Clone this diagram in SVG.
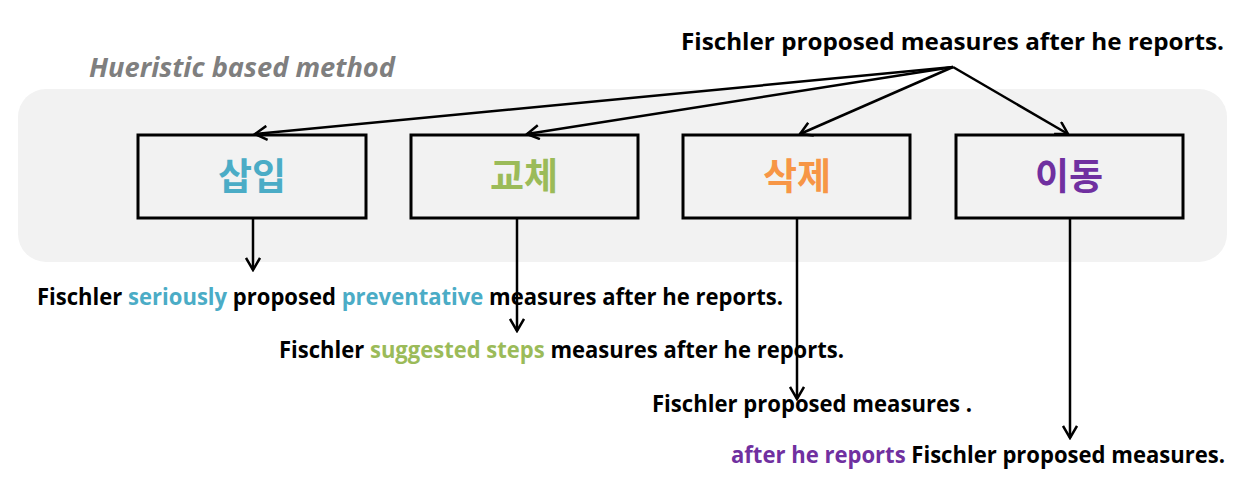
<svg xmlns="http://www.w3.org/2000/svg" width="1247" height="490" viewBox="0 0 1247 490">
<style>
.box{fill:#F2F2F2;stroke:#000;stroke-width:3}
.lbl{font-family:"Noto Sans CJK KR","Noto Sans",sans-serif;font-weight:bold;font-size:37px;text-anchor:middle}
.txt{font-family:"Open Sans","Liberation Sans",sans-serif;font-weight:bold;font-size:24px;fill:#000}
.con{stroke:#000;stroke-width:2.5;fill:none}
</style>
<defs>
<marker id="ah" viewBox="0 0 16 16" refX="14" refY="8" markerWidth="16" markerHeight="16" markerUnits="userSpaceOnUse" orient="auto">
<path d="M2,1 L14,8 L2,15" fill="none" stroke="#000" stroke-width="2.5"/>
</marker>
</defs>
<rect x="0" y="0" width="1247" height="490" fill="#fff"/>
<rect x="18" y="89" width="1209" height="173" rx="28" fill="#F2F2F2"/>
<text x="89" y="77" font-family="Open Sans,Liberation Sans,sans-serif" font-style="italic" font-weight="bold" font-size="26" fill="#7F7F7F" textLength="306" lengthAdjust="spacingAndGlyphs">Hueristic based method</text>
<text class="txt" x="681" y="50" textLength="543" lengthAdjust="spacingAndGlyphs">Fischler proposed measures after he reports.</text>
<g id="n1"><rect class="box" x="138" y="135" width="228" height="83"/><text class="lbl" x="252" y="190" fill="#4BACC6">삽입</text></g>
<g id="n2"><rect class="box" x="411" y="135" width="227" height="83"/><text class="lbl" x="524" y="190" fill="#9BBB59">교체</text></g>
<g id="n3"><rect class="box" x="683" y="135" width="227" height="83"/><text class="lbl" x="797" y="190" fill="#F79646">삭제</text></g>
<g id="n4"><rect class="box" x="956" y="135" width="227" height="83"/><text class="lbl" x="1069" y="190" fill="#7030A0">이동</text></g>
<g id="connectors">
<line class="con" x1="953" y1="67" x2="255" y2="134" marker-end="url(#ah)"/>
<line class="con" x1="953" y1="67" x2="527" y2="134" marker-end="url(#ah)"/>
<line class="con" x1="953" y1="67" x2="800" y2="134" marker-end="url(#ah)"/>
<line class="con" x1="953" y1="67" x2="1068" y2="134" marker-end="url(#ah)"/>
<line class="con" x1="253" y1="218" x2="253" y2="270" marker-end="url(#ah)"/>
<line class="con" x1="517" y1="218" x2="517" y2="331" marker-end="url(#ah)"/>
<line class="con" x1="797" y1="218" x2="797" y2="399" marker-end="url(#ah)"/>
<line class="con" x1="1070" y1="218" x2="1070" y2="438" marker-end="url(#ah)"/>
</g>
<text class="txt" x="37" y="305" textLength="746" lengthAdjust="spacingAndGlyphs">Fischler <tspan fill="#4BACC6">seriously</tspan> proposed <tspan fill="#4BACC6">preventative</tspan> measures after he reports.</text>
<text class="txt" x="279" y="358" textLength="565" lengthAdjust="spacingAndGlyphs">Fischler <tspan fill="#9BBB59">suggested steps</tspan> measures after he reports.</text>
<text class="txt" x="652" y="412" textLength="320" lengthAdjust="spacingAndGlyphs">Fischler proposed measures .</text>
<text class="txt" x="731" y="463" textLength="494" lengthAdjust="spacingAndGlyphs"><tspan fill="#7030A0">after he reports</tspan> Fischler proposed measures.</text>
</svg>
